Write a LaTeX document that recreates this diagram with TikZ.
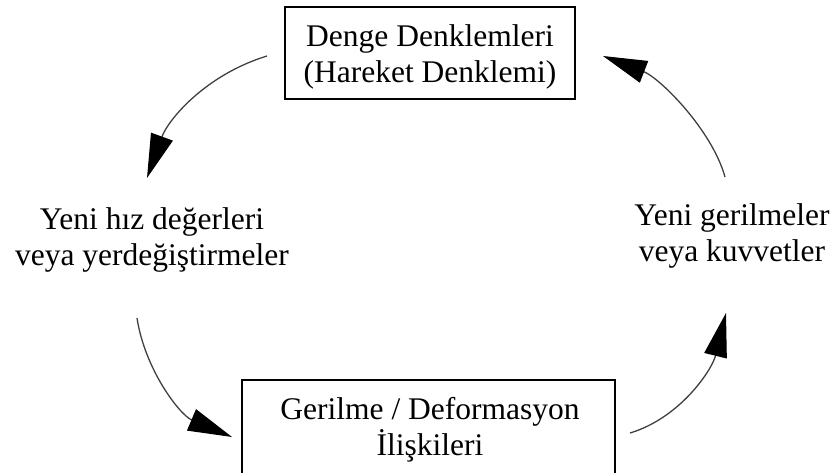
\documentclass[tikz,border=0pt]{standalone}
\usepackage{fontspec}
\setmainfont{Liberation Serif}
\usetikzlibrary{arrows.meta}
\begin{document}
\begin{tikzpicture}[x=1pt,y=-1pt,
  boxnode/.style={draw=black,line width=2pt,rectangle,inner sep=0pt},
  txt/.style={align=center,inner sep=0pt,font=\fontsize{31.5}{36}\selectfont},
  cyc/.style={draw=black!75,line width=1.3pt,-{Triangle[length=44pt,width=23pt,color=black]}}]
\useasboundingbox (0,0) rectangle (836,473);
\clip (0,0) rectangle (836,473);
\fill[white] (0,0) rectangle (836,473);
% boxes
\node[boxnode,minimum width=290pt,minimum height=92pt] (topbox) at (430,53) {};
\node[boxnode,minimum width=373pt,minimum height=120pt] (botbox) at (428.5,440) {};
% texts
\node[txt] (toptext) at (430,57) {Denge Denklemleri\\(Hareket Denklemi)};
\node[txt] (lefttext) at (152,240) {Yeni hız değerleri\\veya yerdeğiştirmeler};
\node[txt] (righttext) at (732,236) {Yeni gerilmeler\\veya kuvvetler};
\node[txt] (bottext) at (430,429.5) {Gerilme / Deformasyon\\İlişkileri};
% arrow ends
\coordinate (a1s) at (267,56);
\coordinate (a1e) at (147,178);
\coordinate (a2s) at (137,318);
\coordinate (a2e) at (232,437);
\coordinate (a3s) at (630,433);
\coordinate (a3e) at (726,313);
\coordinate (a4s) at (725,177);
\coordinate (a4e) at (603,56);
% arrows
\draw[cyc] (a1s) .. controls (205,75) and (168,120) .. (a1e);
\draw[cyc] (a2s) .. controls (145,370) and (180,415) .. (a2e);
\draw[cyc] (a3s) .. controls (680,418) and (712,370) .. (a3e);
\draw[cyc] (a4s) .. controls (712,130) and (660,78) .. (a4e);
\end{tikzpicture}
\end{document}
